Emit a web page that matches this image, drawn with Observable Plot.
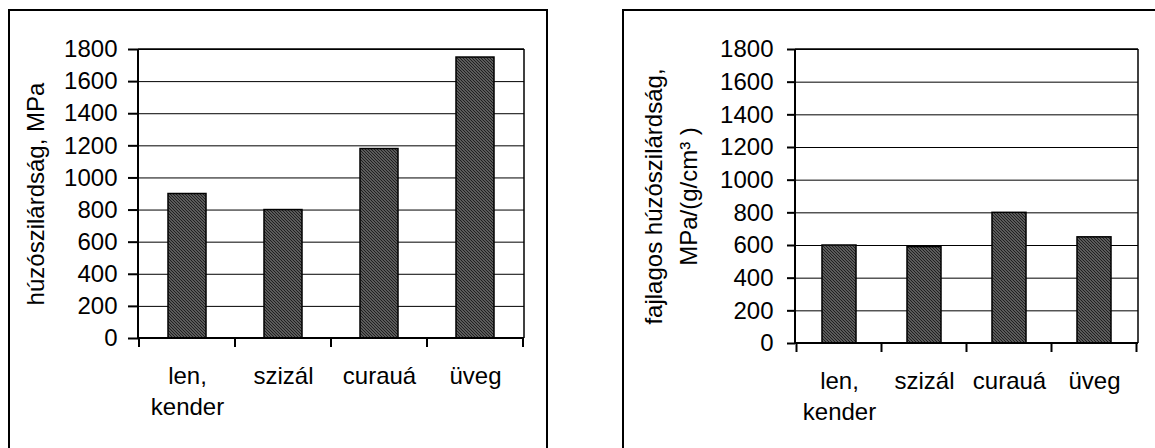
<!DOCTYPE html>
<html><head><meta charset="utf-8">
<script src="https://cdn.jsdelivr.net/npm/d3@7"></script>
<script src="https://cdn.jsdelivr.net/npm/@observablehq/plot@0.6"></script>
<style>
body{margin:0;background:#fff;width:1155px;height:448px;overflow:hidden;position:relative;font-family:"Liberation Sans",Arial,sans-serif;}
.frame{position:absolute;border:2px solid #000;box-sizing:border-box;}
#f1{left:8px;top:9px;width:540px;height:520px;}
#f2{left:622px;top:9px;width:620px;height:520px;}
#p1{position:absolute;left:10px;top:10px;width:530px;height:430px;}
#p2{position:absolute;left:625px;top:12px;width:530px;height:436px;}
</style></head><body>
<svg width="0" height="0" style="position:absolute">
  <defs>
    <pattern id="hatch" patternUnits="userSpaceOnUse" width="3" height="3">
      <rect width="3" height="3" fill="#777777"/>
      <path d="M-1,-1 L4,4 M-1,2 L1,4 M2,-1 L4,1" stroke="#1c1c1c" stroke-width="1.2"/>
    </pattern>
  </defs>
</svg>
<div class="frame" id="f1"></div>
<div class="frame" id="f2"></div>
<div id="p1"></div>
<div id="p2"></div>
<script>
const categories = ["len,\nkender", "szizál", "curauá", "üveg"];
const tensile = [900, 800, 1180, 1750];
const specific = [600, 590, 800, 650];
const yTicks = [0, 200, 400, 600, 800, 1000, 1200, 1400, 1600, 1800];
const yLabelLeft = ["húzószilárdság, MPa"];
const yLabelRight = ["fajlagos húzószilárdság,", "MPa/(g/cm³ )"];

const FONT = "'Liberation Sans', Arial, sans-serif";
const FS = 24;

function axesLines(index, scales, values, dims) {
  const x = scales.x;
  const step = x.step(), bw = x.bandwidth();
  const left = dims.marginLeft, right = dims.width - dims.marginRight;
  const top = dims.marginTop, y0 = dims.height - dims.marginBottom;
  const g = d3.create("svg:g");
  const xs = categories.map(c => x(c) + bw / 2 - step / 2);
  xs.push(x(categories[categories.length - 1]) + bw / 2 + step / 2);
  for (const xv of xs) {
    g.append("line").attr("x1", xv).attr("x2", xv).attr("y1", y0).attr("y2", y0 + 9)
      .attr("stroke", "#000").attr("stroke-width", 2);
  }
  g.append("line").attr("x1", left).attr("x2", right).attr("y1", top).attr("y2", top).attr("stroke", "#000").attr("stroke-width", 1.5);
  g.append("line").attr("x1", right).attr("x2", right).attr("y1", top).attr("y2", y0).attr("stroke", "#000").attr("stroke-width", 1.5);
  g.append("line").attr("x1", left).attr("x2", left).attr("y1", top).attr("y2", y0).attr("stroke", "#000").attr("stroke-width", 2);
  g.append("line").attr("x1", left).attr("x2", right).attr("y1", y0).attr("y2", y0).attr("stroke", "#000").attr("stroke-width", 2);
  return g.node();
}

function panel(opts) {
  const data = categories.map((c, i) => ({c, v: opts.values[i]}));
  const labelMarks = opts.labels.map((t, i) =>
    Plot.text([t], {frameAnchor: "left", text: d => d, rotate: -90, dx: opts.labelDx[i], dy: opts.labelDy || 0,
      fontSize: FS, fill: "#000", lineAnchor: "middle", textAnchor: "middle"}));
  return Plot.plot({
    width: opts.width, height: opts.height,
    marginLeft: opts.marginLeft, marginRight: opts.marginRight,
    marginTop: opts.marginTop, marginBottom: opts.marginBottom,
    style: {fontFamily: FONT, fontSize: FS + "px", color: "#000", background: "transparent", overflow: "visible"},
    x: {domain: categories, paddingInner: 0.6, paddingOuter: 0.3, axis: null},
    y: {domain: [0, 1800], axis: null},
    marks: [
      Plot.ruleY(yTicks, {stroke: "#000", strokeWidth: 1}),
      Plot.barY(data, {x: "c", y: "v", fill: "url(#hatch)", stroke: "#000", strokeWidth: 1.5}),
      axesLines,
      Plot.axisY({ticks: yTicks, tickSize: opts.tickSize, tickPadding: opts.tickPadding, tickFormat: d => String(d),
        label: null, fontSize: FS, stroke: "#000", strokeWidth: 2, fill: "#000"}),
      Plot.axisX({tickSize: 0, tickPadding: opts.xPad, label: null, fontSize: FS, lineHeight: 1.3, fill: "#000"}),
      ...labelMarks
    ]
  });
}

document.getElementById("p1").append(panel({
  values: tensile, width: 530, height: 430,
  marginLeft: 128, marginRight: 16, marginTop: 39, marginBottom: 102,
  tickSize: 10, tickPadding: 11, xPad: 23,
  labels: yLabelLeft, labelDx: [-102]
}));
document.getElementById("p2").append(panel({
  values: specific, width: 530, height: 436,
  marginLeft: 170, marginRight: 17, marginTop: 37, marginBottom: 105,
  tickSize: 8, tickPadding: 14, xPad: 23,
  labels: yLabelRight, labelDx: [-141, -106], labelDy: 0
}));
</script>
</body></html>
